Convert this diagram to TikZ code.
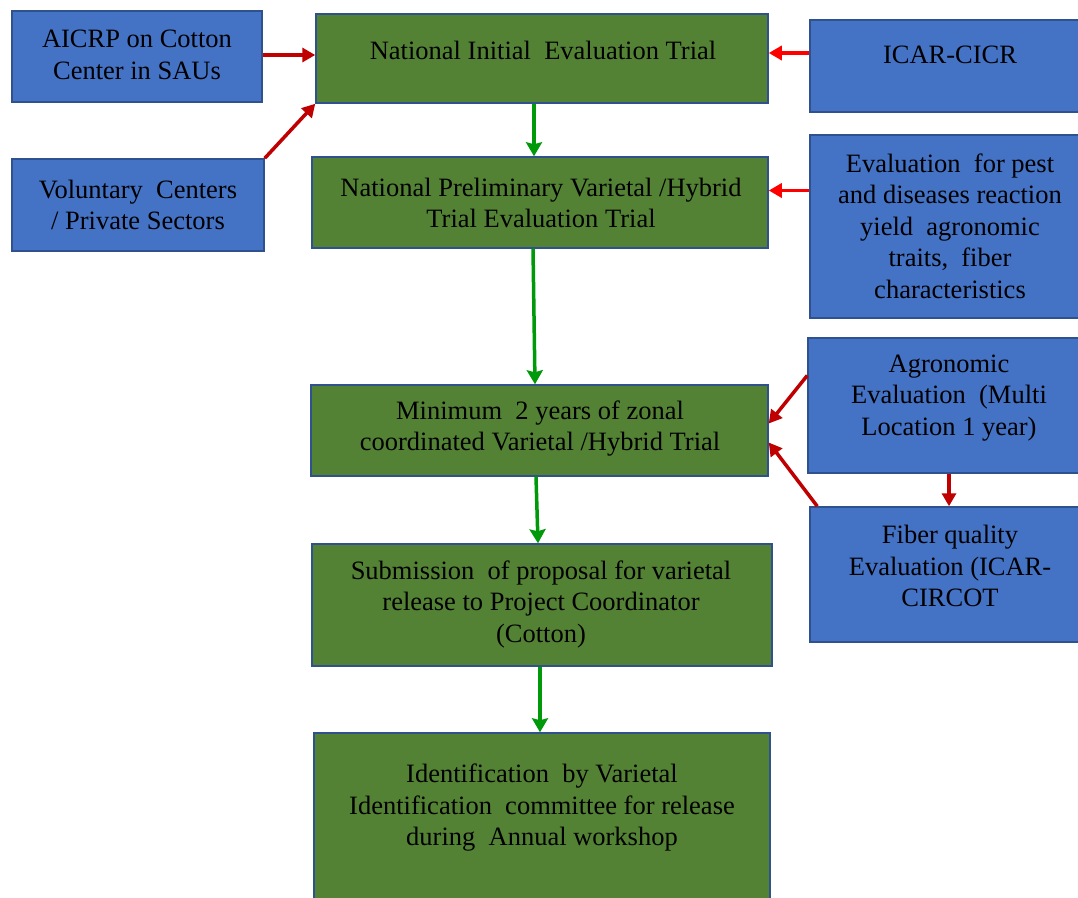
\documentclass[tikz,border=0pt]{standalone}
\usepackage{fontspec}
\setmainfont{Liberation Serif}
\usetikzlibrary{arrows.meta}
\definecolor{bfill}{HTML}{4472C4}
\definecolor{bdraw}{HTML}{2F528F}
\definecolor{gfill}{HTML}{548235}
\definecolor{darkred}{HTML}{C00000}
\definecolor{brightred}{HTML}{FF0000}
\definecolor{garrow}{HTML}{00990A}
\tikzset{
  bluebox/.style={draw=bdraw, fill=bfill, line width=1.5pt, inner sep=0pt},
  greenbox/.style={draw=bdraw, fill=gfill, line width=1.5pt, inner sep=0pt},
  txt/.style={align=center, inner sep=0pt, font=\fontsize{26.5}{31.5}\selectfont},
  redarr/.style={draw=darkred, line width=3.5pt, -{Triangle[length=13pt,width=14pt]}},
  brightarr/.style={draw=brightred, line width=3.5pt, -{Triangle[length=13pt,width=14pt]}},
  greenarr/.style={draw=garrow, line width=3.5pt, -{Stealth[length=14pt,width=16pt,inset=2pt]}}
}
\begin{document}
\begin{tikzpicture}[x=1pt,y=-1pt]
\clip (0,0) rectangle (1078,897);
\fill[white] (0,0) rectangle (1078,897);
% blue boxes
\node[bluebox, minimum width=250pt, minimum height=91pt] (aicrp) at (137,56.5) {};
\node[bluebox, minimum width=252pt, minimum height=92pt] (vol) at (138,205) {};
\node[bluebox, minimum width=280pt, minimum height=92pt] (icar) at (950,66) {};
\node[bluebox, minimum width=280pt, minimum height=183pt] (evalp) at (950,226.5) {};
\node[bluebox, minimum width=282pt, minimum height=135pt] (agro) at (949,405.5) {};
\node[bluebox, minimum width=280pt, minimum height=135pt] (fiber) at (950,574.5) {};
% green boxes
\node[greenbox, minimum width=452pt, minimum height=89pt] (niet) at (542,58.5) {};
\node[greenbox, minimum width=456pt, minimum height=91pt] (npv) at (540,202.5) {};
\node[greenbox, minimum width=457pt, minimum height=91pt] (mini) at (539.5,430.5) {};
\node[greenbox, minimum width=460pt, minimum height=122pt] (sub) at (542,605) {};
\node[greenbox, minimum width=456pt, minimum height=177pt] (ident) at (542,821.5) {};
% texts
\node[txt] (aicrp-t) at (137,55) {AICRP on Cotton\\Center in SAUs};
\node[txt] (vol-t) at (138,205) {Voluntary\ \ Centers\\/ Private Sectors};
\node[txt] (icar-t) at (950,55) {ICAR-CICR};
\node[txt] (evalp-t) at (950,226) {Evaluation\ \ for pest\\and diseases reaction\\yield\ \ agronomic\\traits,\ \ fiber\\characteristics};
\node[txt] (agro-t) at (949,398) {Agronomic\\Evaluation\ \ (Multi\\Location 1 year)};
\node[txt] (fiber-t) at (950,566) {Fiber quality\\Evaluation (ICAR-\\CIRCOT};
\node[txt] (niet-t) at (543,50) {National Initial\ \ Evaluation Trial};
\node[txt] (npv-t) at (541,203) {National Preliminary Varietal /Hybrid\\Trial Evaluation Trial};
\node[txt] (mini-t) at (540,428.5) {Minimum\ \ 2 years of zonal\\coordinated Varietal /Hybrid Trial};
\node[txt] (sub-t) at (541,604) {Submission\ \ of proposal for varietal\\release to Project Coordinator\\(Cotton)};
\node[txt] (ident-t) at (542,808) {Identification\ \ by Varietal\\Identification\ \ committee for release\\during\ \ Annual workshop};
% red arrows
\draw[redarr] ([yshift=1.5pt]aicrp.east) -- ([yshift=1.5pt]aicrp.east -| niet.west);
\draw[redarr] (vol.north east) -- (niet.south west);
\draw[brightarr] ([yshift=13pt]icar.west) -- ([yshift=13pt]icar.west -| niet.east);
\draw[brightarr] ([yshift=36pt]evalp.west) -- ([yshift=36pt]evalp.west -| npv.east);
\draw[redarr] ([yshift=30pt]agro.west) -- ([yshift=7pt]mini.east);
\draw[redarr] ([xshift=8pt]fiber.north west) -- ([yshift=-12pt]mini.east);
\draw[redarr] (agro.south) -- (agro.south |- fiber.north);
% green arrows
\draw[greenarr] ([xshift=-8pt]niet.south) -- ([xshift=-6pt]npv.north);
\draw[greenarr] ([xshift=-7pt]npv.south) -- ([xshift=-4.5pt]mini.north);
\draw[greenarr] ([xshift=-3.5pt]mini.south) -- ([xshift=-4pt]sub.north);
\draw[greenarr] ([xshift=-2pt]sub.south) -- ([xshift=-2pt]ident.north);
\end{tikzpicture}
\end{document}
